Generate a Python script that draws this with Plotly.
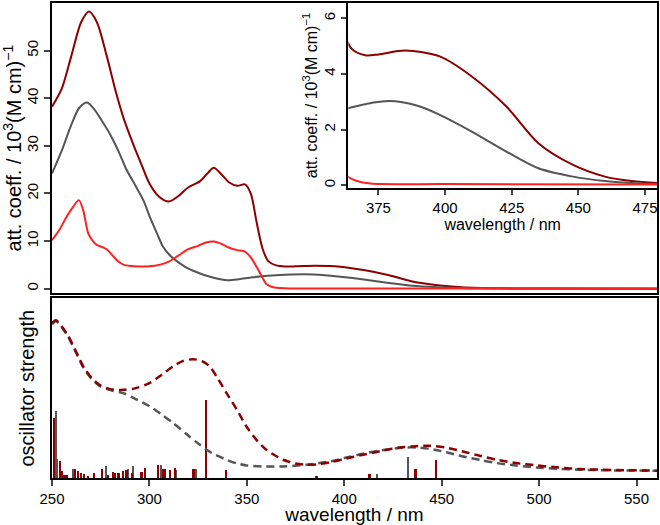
import plotly.graph_objects as go

# measured spectra (top panel + inset), wavelength in nm, att. coeff. in 10^3 (M cm)^-1
wl_dr = [250, 255, 260, 265, 269, 273, 278, 283, 287, 292, 296, 300, 305, 310, 315, 320,
         326, 330, 333, 337, 341, 345, 349, 352, 355, 358, 361, 365, 370, 375, 385, 398,
         410, 423, 435, 448, 460, 470, 480, 500, 561]
eps_dr = [38.2, 42, 49, 56, 58.2, 56, 49, 41, 35.5, 30, 26, 22.1, 19.3, 18.3, 19.5, 21.3,
          22.6, 24.3, 25.4, 24, 22.3, 21.6, 21.9, 20, 14, 8.5, 5.8, 4.9, 4.67, 4.7, 4.84, 4.63,
          3.91, 2.83, 1.51, 0.73, 0.31, 0.15, 0.08, 0.03, 0.0]

wl_gr = [250, 255, 260, 264, 268, 272, 276, 280, 284, 288, 293, 297, 300, 304, 307, 311,
         316, 320, 326, 333, 340, 346, 353, 365, 379, 390, 398, 410, 423, 435, 448, 460,
         470, 480, 561]
eps_gr = [24.2, 29, 34.5, 38, 39.1, 37.5, 35, 32.3, 29, 25.2, 21.5, 18.5, 15.3, 11.5, 8.8, 6.8,
          5.2, 4.2, 3.2, 2.3, 1.8, 2.0, 2.4, 2.8, 3.03, 2.85, 2.53, 1.93, 1.21, 0.61, 0.31, 0.15,
          0.08, 0.04, 0.0]

wl_rd = [250, 254, 257.5, 261, 263.8, 266, 268.6, 271, 273, 276, 278, 281, 284, 287, 292,
         300, 305, 310, 315, 320, 325, 329, 333, 337, 341, 345, 349, 352, 355, 358, 360,
         363, 367, 372, 400, 561]
eps_rd = [10.2, 12.5, 15.1, 17.3, 18.6, 16.5, 11.6, 10, 9.2, 8.7, 8.3, 7, 5.7, 5.0, 4.7,
          4.7, 5.0, 5.7, 7, 8.3, 9, 9.7, 9.9, 9.4, 8.6, 8.1, 7.8, 6.6, 4.6, 2.3, 1.0,
          0.35, 0.15, 0.06, 0.04, 0.02]

# calculated spectra (bottom panel), arbitrary units
wl_calc_dr = [250, 252, 257.5, 262, 266, 270, 274.6, 280, 286.6, 293, 300, 306, 312, 317,
              322.5, 327, 331, 335, 339.6, 345, 349.8, 355, 360, 365, 368.6, 375, 380.6,
              386, 392.6, 400, 409.6, 420, 428, 435, 443.8, 452, 460.9, 470, 478, 488,
              498.6, 510, 520.8, 540, 561]
f_calc_dr = [1.55, 1.58, 1.45, 1.28, 1.12, 1.01, 0.93, 0.89, 0.883, 0.9, 0.95, 1.03, 1.116,
             1.17, 1.19, 1.17, 1.116, 1.0, 0.85, 0.68, 0.516, 0.38, 0.283, 0.22, 0.183,
             0.145, 0.133, 0.137, 0.156, 0.19, 0.233, 0.275, 0.305, 0.316, 0.323, 0.305,
             0.266, 0.22, 0.183, 0.15, 0.126, 0.105, 0.09, 0.08, 0.073]

wl_calc_gr = [250, 252, 257.5, 262, 266, 270, 274.6, 280, 286.6, 293, 300.3, 306, 312.2,
              319, 325.9, 332, 339.6, 345, 349.8, 358, 368.6, 380.6, 392.6, 400, 409.6,
              420, 431.9, 438, 443.8, 452, 460.9, 470, 478, 488, 498.6, 510, 520.8, 540, 561]
f_calc_gr = [1.54, 1.57, 1.44, 1.27, 1.11, 1.0, 0.92, 0.88, 0.85, 0.79, 0.716, 0.64, 0.55,
             0.44, 0.333, 0.25, 0.183, 0.145, 0.126, 0.115, 0.116, 0.133, 0.166, 0.2, 0.243,
             0.28, 0.306, 0.305, 0.293, 0.26, 0.216, 0.18, 0.15, 0.125, 0.106, 0.093, 0.083,
             0.076, 0.073]

# stick spectra (transitions)
stick_dr_wl = [251.2, 254.1, 255.0, 256.5, 258, 262.1, 263.5, 264.9, 266.5, 268.5, 271.7,
               275.8, 279, 281.4, 282.6, 284.3, 286.6, 288.3, 291, 296.0, 297.7, 304.5,
               307.1, 308.3, 310.5, 313.4, 322.8, 329.0, 339.6, 385.9, 413.1, 436.7, 447.3]
stick_dr_f = [0.60, 0.167, 0.067, 0.03, 0.025, 0.09, 0.067, 0.043, 0.033, 0.02, 0.05,
              0.09, 0.03, 0.057, 0.05, 0.043, 0.067, 0.077, 0.05, 0.057, 0.10, 0.123,
              0.083, 0.09, 0.077, 0.10, 0.083, 0.777, 0.073, 0.02, 0.04, 0.09, 0.173]

stick_gr_wl = [252.2, 252.9, 260.9, 278.0, 289.2, 291.7, 305.9, 314, 323.8, 417.0, 432.9]
stick_gr_f = [0.667, 0.183, 0.083, 0.117, 0.083, 0.117, 0.123, 0.08, 0.083, 0.033, 0.21]

DARKRED = '#8b0000'
GREY = '#555555'
RED = '#ff2020'
FONT = 'Liberation Sans, Arial, sans-serif'
DASH = '8px,5px'

fig = go.Figure()

# top panel
for wl, eps, col in [(wl_dr, eps_dr, DARKRED), (wl_gr, eps_gr, GREY), (wl_rd, eps_rd, RED)]:
    fig.add_trace(go.Scatter(x=wl, y=eps, mode='lines', line=dict(color=col, width=2, shape='spline', smoothing=0.8),
                             xaxis='x', yaxis='y', showlegend=False))

# inset
for wl, eps, col in [(wl_dr, eps_dr, DARKRED), (wl_gr, eps_gr, GREY), (wl_rd, eps_rd, RED)]:
    fig.add_trace(go.Scatter(x=wl, y=eps, mode='lines', line=dict(color=col, width=2, shape='spline', smoothing=0.8),
                             xaxis='x3', yaxis='y3', showlegend=False))

# bottom panel: sticks then convoluted curves
fig.add_trace(go.Bar(x=stick_gr_wl, y=stick_gr_f, width=0.8, marker=dict(color=GREY, line_width=0),
                     xaxis='x2', yaxis='y2', showlegend=False))
fig.add_trace(go.Bar(x=stick_dr_wl, y=stick_dr_f, width=0.9, marker=dict(color=DARKRED, line_width=0),
                     xaxis='x2', yaxis='y2', showlegend=False))
fig.add_trace(go.Scatter(x=wl_calc_gr, y=f_calc_gr, mode='lines',
                         line=dict(color=GREY, width=2.5, dash=DASH, shape='spline', smoothing=0.8),
                         xaxis='x2', yaxis='y2', showlegend=False))
fig.add_trace(go.Scatter(x=wl_calc_dr, y=f_calc_dr, mode='lines',
                         line=dict(color=DARKRED, width=2.5, dash=DASH, shape='spline', smoothing=0.8),
                         xaxis='x2', yaxis='y2', showlegend=False))

frame = dict(showline=True, linecolor='black', linewidth=2, mirror=True, showgrid=False,
             zeroline=False, automargin=False)
ytitle = 'att. coeff. / 10<sup>3</sup>(M cm)<sup>−1</sup>'

fig.update_layout(
    template='none',
    width=660, height=525,
    margin=dict(l=52, r=3, t=3, b=47),
    paper_bgcolor='white', plot_bgcolor='white',
    font=dict(family=FONT, color='black', size=15),
    barmode='overlay', bargap=0,
    xaxis=dict(frame, domain=[0, 1], range=[250, 560.5], anchor='y',
               ticks='', showticklabels=False),
    yaxis=dict(frame, domain=[0.3888, 1], range=[-0.97, 60.0], anchor='x',
               tickvals=[0, 10, 20, 30, 40, 50], ticks='outside', ticklen=6, tickwidth=1.5,
               tickangle=-90, tickfont=dict(size=15),
               title=dict(text=ytitle, font=dict(size=20), standoff=4)),
    xaxis2=dict(frame, domain=[0, 1], range=[250, 560.5], anchor='y2',
                tickvals=[250, 300, 350, 400, 450, 500, 550], ticks='outside', ticklen=6, tickwidth=1.5,
                tickfont=dict(size=15),
                title=dict(text='wavelength / nm', font=dict(size=19), standoff=2)),
    yaxis2=dict(frame, domain=[0, 0.3783], range=[0, 1.80], anchor='x2',
                ticks='', showticklabels=False,
                title=dict(text='oscillator strength', font=dict(size=20), standoff=10)),
    xaxis3=dict(frame, domain=[0.4898, 1], range=[363.7, 479.5], anchor='y3',
                tickvals=[375, 400, 425, 450, 475], ticks='outside', ticklen=5, tickwidth=1.5,
                tickfont=dict(size=15),
                title=dict(text='wavelength / nm', font=dict(size=16), standoff=0)),
    yaxis3=dict(frame, domain=[0.6105, 1], range=[-0.1, 6.55], anchor='x3',
                tickvals=[0, 2, 4, 6], ticks='outside', ticklen=5, tickwidth=1.5,
                tickangle=-90, tickfont=dict(size=15),
                title=dict(text=ytitle, font=dict(size=16), standoff=0)),
)

fig.write_html('out.html', config={'displayModeBar': False},
               post_script="document.body.style.margin='0px';")
